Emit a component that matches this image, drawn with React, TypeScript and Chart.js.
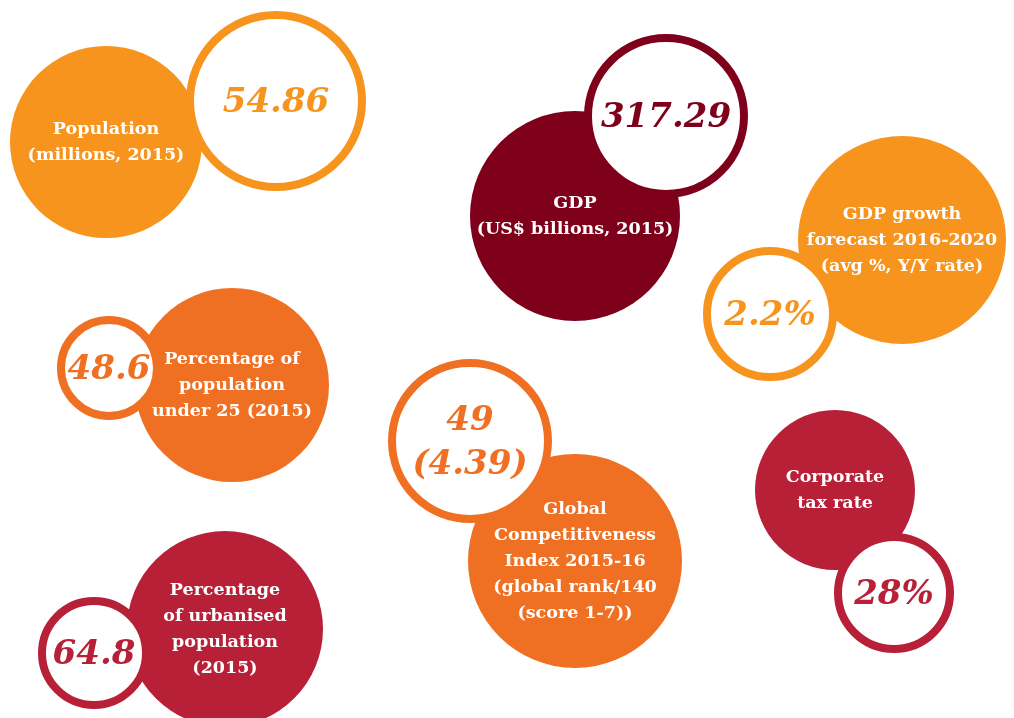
import React, { useEffect, useRef } from "react";
import { Chart, registerables } from "chart.js";

Chart.register(...registerables);

// Labels of the filled bubbles (one entry per indicator, lines split)
const labelLines: string[][] = [
  ["Population", "(millions, 2015)"],
  ["GDP", "(US$ billions, 2015)"],
  ["GDP growth", "forecast 2016-2020", "(avg %, Y/Y rate)"],
  ["Percentage of", "population", "under 25 (2015)"],
  ["Global", "Competitiveness", "Index 2015-16", "(global rank/140", "(score 1-7))"],
  ["Corporate", "tax rate"],
  ["Percentage", "of urbanised", "population", "(2015)"],
];

// Values shown in the ringed bubbles
const valueLines: string[][] = [
  ["54.86"],
  ["317.29"],
  ["2.2%"],
  ["48.6"],
  ["49", "(4.39)"],
  ["28%"],
  ["64.8"],
];

// Bubble data (x, y on a page-like grid, r in px)
const labelX = [106, 575, 902, 232, 575, 835, 225];
const labelY = [142, 216, 240, 385, 561, 490, 629];
const labelR = [96, 105, 104, 97, 107, 80, 98];

const valueX = [276, 666, 770, 109, 470, 894, 94];
const valueY = [101, 116, 314, 368, 441, 593, 653];
const valueR = [86, 78, 63, 48, 78, 56, 52];

const ORANGE = "#F7941E";
const DARKRED = "#7E001B";
const DEEPORANGE = "#F07023";
const CRIMSON = "#B72036";
const colors = [ORANGE, DARKRED, ORANGE, DEEPORANGE, DEEPORANGE, CRIMSON, CRIMSON];

const textPlugin = {
  id: "bubbleText",
  afterDatasetsDraw(chart: any) {
    const ctx = chart.ctx;
    ctx.save();
    ctx.textAlign = "center";
    ctx.textBaseline = "middle";
    // label texts (dataset 1 = filled)
    const filled = chart.getDatasetMeta(1);
    filled.data.forEach((el: any, i: number) => {
      const lines = labelLines[i];
      const lh = 26;
      ctx.font = "bold 17.5px 'DejaVu Serif'";
      ctx.fillStyle = "#ffffff";
      const start = el.y - ((lines.length - 1) * lh) / 2;
      lines.forEach((t, k) => ctx.fillText(t, el.x, start + k * lh));
    });
    const rings = chart.getDatasetMeta(0);
    rings.data.forEach((el: any, i: number) => {
      const lines = valueLines[i];
      const lh = 44;
      ctx.font = "italic bold 34px 'DejaVu Serif'";
      ctx.fillStyle = colors[i];
      const start = el.y - ((lines.length - 1) * lh) / 2;
      lines.forEach((t, k) => ctx.fillText(t, el.x, start + k * lh + 2));
    });
    ctx.restore();
  },
};

export default function App() {
  const ref = useRef<HTMLCanvasElement>(null);
  useEffect(() => {
    if (!ref.current) return;
    const chart = new Chart(ref.current, {
      type: "bubble",
      data: {
        datasets: [
          {
            label: "values",
            data: valueX.map((x, i) => ({ x, y: valueY[i], r: valueR[i] })),
            backgroundColor: "#ffffff",
            borderColor: colors,
            borderWidth: 8,
            order: 1,
            clip: false as any,
          },
          {
            label: "labels",
            data: labelX.map((x, i) => ({ x, y: labelY[i], r: labelR[i] })),
            backgroundColor: colors,
            borderWidth: 0,
            order: 2,
            clip: false as any,
          },
        ],
      },
      options: {
        animation: false,
        responsive: false,
        events: [],
        layout: { autoPadding: false, padding: 0 },
        plugins: { legend: { display: false }, tooltip: { enabled: false } },
        scales: {
          x: { type: "linear", min: 0, max: 1014, display: false },
          y: { type: "linear", min: 0, max: 718, reverse: true, display: false },
        },
      },
      plugins: [textPlugin],
    });
    return () => chart.destroy();
  }, []);
  return (
    <div style={{ position: "fixed", left: 0, top: 0, width: 1014, height: 718, background: "#fff" }}>
      <canvas ref={ref} width={1014} height={718} style={{ display: "block" }} />
    </div>
  );
}
